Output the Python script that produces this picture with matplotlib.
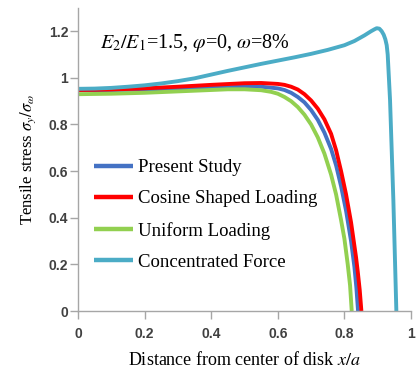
import matplotlib
matplotlib.use("Agg")
import matplotlib.pyplot as plt
from matplotlib.ticker import FuncFormatter

# ---------- data ----------
x_present = [0.0, 0.1, 0.2, 0.3, 0.4, 0.5, 0.55, 0.6, 0.62, 0.64, 0.66,
             0.68, 0.70, 0.72, 0.74, 0.76, 0.775, 0.79, 0.805, 0.82, 0.83,
             0.836, 0.841]
y_present = [0.947, 0.948, 0.950, 0.953, 0.958, 0.962, 0.962, 0.955, 0.948,
             0.936, 0.918, 0.895, 0.862, 0.820, 0.765, 0.695, 0.625, 0.535,
             0.430, 0.300, 0.190, 0.100, 0.0]

x_cosine = [0.0, 0.1, 0.2, 0.3, 0.4, 0.5, 0.55, 0.6, 0.62, 0.64, 0.66,
            0.68, 0.70, 0.72, 0.74, 0.76, 0.775, 0.79, 0.805, 0.82, 0.835,
            0.84, 0.846, 0.851]
y_cosine = [0.948, 0.950, 0.955, 0.962, 0.970, 0.977, 0.978, 0.974, 0.970,
            0.962, 0.950, 0.930, 0.903, 0.868, 0.822, 0.760, 0.690, 0.600,
            0.500, 0.380, 0.230, 0.170, 0.090, 0.0]

x_uniform = [0.0, 0.1, 0.2, 0.3, 0.4, 0.45, 0.5, 0.55, 0.58, 0.6, 0.62,
             0.64, 0.66, 0.68, 0.70, 0.72, 0.74, 0.76, 0.775, 0.79, 0.80,
             0.81, 0.817, 0.822]
y_uniform = [0.930, 0.932, 0.936, 0.942, 0.948, 0.951, 0.951, 0.947, 0.940,
             0.932, 0.918, 0.900, 0.875, 0.842, 0.800, 0.745, 0.675, 0.585,
             0.500, 0.390, 0.310, 0.200, 0.110, 0.0]

x_conc = [0.0, 0.05, 0.1, 0.15, 0.2, 0.25, 0.3, 0.35, 0.4, 0.45, 0.5, 0.55,
          0.6, 0.65, 0.7, 0.75, 0.8, 0.83, 0.86, 0.88, 0.89, 0.897, 0.905,
          0.912, 0.918, 0.923, 0.927, 0.93, 0.937, 0.947, 0.956]
y_conc = [0.953, 0.954, 0.957, 0.962, 0.968, 0.976, 0.986, 0.998, 1.014,
          1.030, 1.045, 1.060, 1.074, 1.088, 1.103, 1.120, 1.140, 1.158,
          1.182, 1.200, 1.208, 1.213, 1.211, 1.200, 1.185, 1.165, 1.140,
          1.100, 0.906, 0.476, 0.0]

labels = ["Present Study", "Cosine Shaped Loading", "Uniform Loading",
          "Concentrated Force"]
colors = ["#4472C4", "#FF0000", "#92D050", "#4BACC6"]

# ---------- figure ----------
plt.rcParams["mathtext.fontset"] = "stix"
SERIF = "Liberation Serif"
SANS = "Liberation Sans"

fig = plt.figure(figsize=(4.16, 3.77), dpi=100)
ax = fig.add_axes([0.1875, 0.175, 0.8005, 0.804])

series = [(x_present, y_present), (x_cosine, y_cosine),
          (x_uniform, y_uniform), (x_conc, y_conc)]
for (xs, ys), lab, col in zip(series, labels, colors):
    ax.plot(xs, ys, color=col, lw=2.8, label=lab,
            solid_capstyle="butt", solid_joinstyle="round")

ax.set_xlim(0, 1)
ax.set_ylim(0, 1.3)
ax.set_xticks([0, 0.2, 0.4, 0.6, 0.8, 1.0])
ax.set_yticks([0, 0.2, 0.4, 0.6, 0.8, 1.0, 1.2])
fmt = FuncFormatter(lambda v, p: f"{v:g}")
ax.xaxis.set_major_formatter(fmt)
ax.yaxis.set_major_formatter(fmt)

for s in ("top", "right"):
    ax.spines[s].set_visible(False)
for s in ("left", "bottom"):
    ax.spines[s].set_color("#A6A6A6")
    ax.spines[s].set_linewidth(1.0)

ax.tick_params(axis="both", direction="out", length=5.5, width=1.0,
               color="#A6A6A6", labelcolor="#404040", labelsize=10)
ax.tick_params(axis="x", pad=6)
ax.tick_params(axis="y", pad=1.5)
for t in ax.get_xticklabels() + ax.get_yticklabels():
    t.set_fontfamily(SANS)
    t.set_fontweight("bold")

ax.set_xlabel(r"Distance from center of disk $\mathit{x/a}$",
              fontfamily=SERIF, fontsize=13, labelpad=7)
ax.set_ylabel(r"Tensile stress $\sigma_y/\sigma_\omega$",
              fontfamily=SERIF, fontsize=12, labelpad=8)

ax.text(0.066, 0.884,
        r"$E_2/E_1$=1.5, $\varphi$=0, $\omega$=8%",
        transform=ax.transAxes, fontfamily=SERIF, fontsize=14.5,
        ha="left", va="center")

leg = ax.legend(loc="center left", bbox_to_anchor=(0.025, 0.317),
                borderaxespad=0, frameon=False, handlelength=2.1,
                handletextpad=0.27, labelspacing=0.76,
                prop={"family": SERIF, "size": 13.5})
for h in leg.get_lines():
    h.set_linewidth(3.2)

fig.savefig("out.png", dpi=100)
